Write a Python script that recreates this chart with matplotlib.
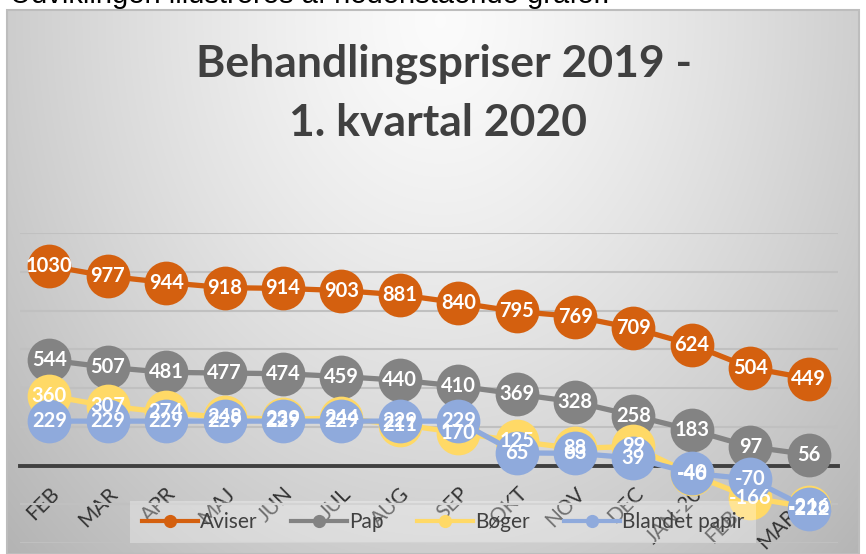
import numpy as np
import matplotlib
matplotlib.use("Agg")
import matplotlib.pyplot as plt
from matplotlib.lines import Line2D
from matplotlib.patches import Rectangle

categories = ["FEB", "MAR", "APR", "MAJ", "JUN", "JUL", "AUG", "SEP", "OKT",
              "NOV", "DEC", "JAN-20", "FEB-20", "MAR-20"]
aviser = [1030, 977, 944, 918, 914, 903, 881, 840, 795, 769, 709, 624, 504, 449]
pap = [544, 507, 481, 477, 474, 459, 440, 410, 369, 328, 258, 183, 97, 56]
boger = [360, 307, 274, 248, 239, 244, 211, 170, 125, 88, 99, -46, -166, -216]
blandet = [229, 229, 229, 229, 229, 229, 229, 229, 65, 63, 39, -40, -70, -222]
series_names = ["Aviser", "Pap", "Bøger", "Blandet papir"]
series_vals = [aviser, pap, boger, blandet]
colors = ["#D4600F", "#838383", "#FFD966", "#8FAADC"]

W, H = 866, 554
fig = plt.figure(figsize=(W / 100, H / 100), dpi=100)

# background gradient (chart area)
bx0, by0, bx1, by1 = 7, 10, 859, 554
img = np.ones((H, W, 3))
yy, xx = np.mgrid[0:H, 0:W]
d = np.sqrt(((xx - 440) / 430.0) ** 2 + ((yy - 20) / 540.0) ** 2)
g = 0.985 - 0.18 * d ** 1.3
g = np.clip(g, 0, 1)
mask = (xx >= bx0) & (xx <= bx1) & (yy >= by0) & (yy <= by1)
for c in range(3):
    img[..., c] = np.where(mask, g, 1.0)
bg = fig.add_axes([0, 0, 1, 1], zorder=-1)
bg.imshow(img, extent=(0, W, H, 0), aspect="auto", interpolation="bilinear")
bg.add_patch(Rectangle((bx0, by0), bx1 - bx0, by1 - by0, fill=False,
                       edgecolor="#bdbdbd", lw=1.5))
bg.set_xlim(0, W)
bg.set_ylim(H, 0)
bg.axis("off")

# partially visible sentence above the chart
fig.text(10 / W, 1 - 3 / H, "Udviklingen illustreres af nedenstående grafer.",
         fontsize=21, family="Liberation Sans", color="black", va="baseline")

# title
fig.text(444 / W, 1 - 77 / H, "Behandlingspriser 2019 -", fontsize=32,
         family="Lato", weight="bold", color="#404040", ha="center", va="baseline")
fig.text(438 / W, 1 - 136 / H, "1. kvartal 2020", fontsize=32,
         family="Lato", weight="bold", color="#404040", ha="center", va="baseline")

# main plot area
left, right, top, bottom = 20, 838, 233, 543
ax = fig.add_axes([left / W, 1 - bottom / H, (right - left) / W, (bottom - top) / H])
ax.patch.set_alpha(0)
x = np.arange(len(categories))
ax.set_xlim(-0.5, len(categories) - 0.5)
ax.set_ylim(-400, 1200)
ax.set_yticks(np.arange(-400, 1201, 200))
ax.yaxis.grid(True, color="#c0c0c0", lw=1.5)
ax.set_axisbelow(True)
ax.tick_params(axis="y", length=0, labelleft=False)
for s in ["top", "right", "left"]:
    ax.spines[s].set_visible(False)
ax.spines["bottom"].set_position(("data", 0))
ax.spines["bottom"].set_color("#404040")
ax.spines["bottom"].set_linewidth(2.8)
ax.set_xticks(x)
ax.set_xticklabels(categories, fontsize=15, family="Lato", color="#333333")
ax.tick_params(axis="x", length=0, pad=13)
for lab in ax.get_xticklabels():
    lab.set_rotation(45)
    lab.set_ha("right")
    lab.set_va("top")
    lab.set_rotation_mode("anchor")

for i, (name, vals, col) in enumerate(zip(series_names, series_vals, colors)):
    ax.plot(x, vals, color=col, lw=3.8, marker="o", markersize=31.5,
            markeredgewidth=0, zorder=3 + i, clip_on=False, label=name)
for i, vals in enumerate(series_vals):
    for xi, v in zip(x, vals):
        ax.text(xi, v, str(v), color="white", fontsize=14.5, family="Lato",
                weight="bold", ha="center", va="center", zorder=10)

handles = [Line2D([0], [0], color=c, lw=3, marker="o", markersize=9.5,
                  markeredgewidth=0) for c in colors]
leg = fig.legend(handles, series_names, loc="center",
                 bbox_to_anchor=(443 / W, 1 - 522 / H), ncol=4,
                 prop={"family": "Lato", "size": 15}, frameon=True,
                 handlelength=2.7, handletextpad=0.1, columnspacing=1.6,
                 borderpad=0.55, borderaxespad=0, fancybox=False)
leg.get_frame().set_facecolor("white")
leg.get_frame().set_alpha(0.3)
leg.get_frame().set_edgecolor("none")
for t in leg.get_texts():
    t.set_color("#404040")
leg.set_zorder(20)

fig.savefig("out.png", dpi=100)
